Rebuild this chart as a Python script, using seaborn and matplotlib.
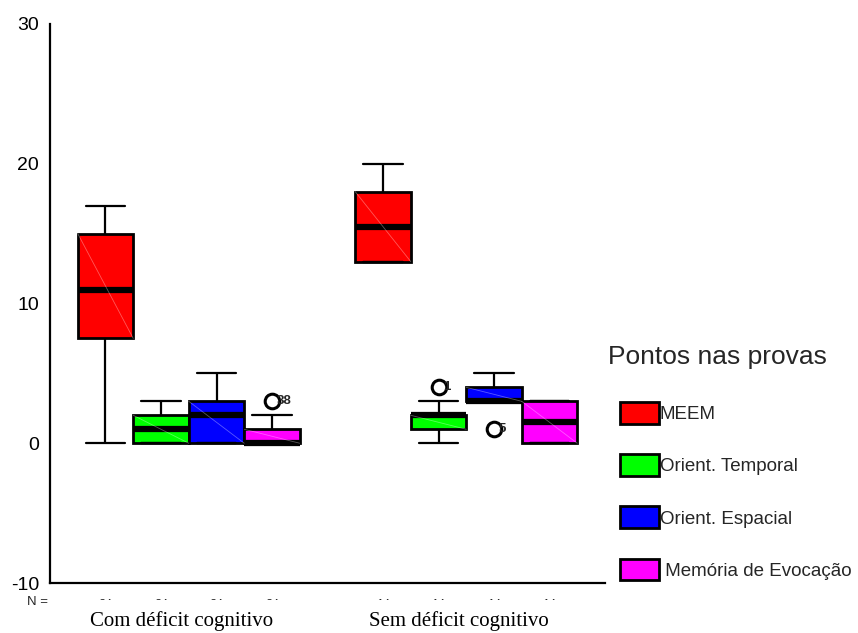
import numpy as np
import pandas as pd
import matplotlib
matplotlib.use("Agg")
import matplotlib.pyplot as plt
from matplotlib.patches import Patch
from matplotlib.transforms import Bbox, blended_transform_factory, ScaledTranslation
import seaborn as sns

# ---------------- data ----------------
groups = ["Com déficit cognitivo", "Sem déficit cognitivo"]
tests = ["MEEM", "Orient. Temporal", "Orient. Espacial", "Memória de Evocação"]
colors = ["#ff0000", "#00ff00", "#0000ff", "#ff00ff"]
n_per_group = [24, 14]

# five-number summaries: lower whisker, Q1, median, Q3, upper whisker
com_meem = [0, 7.5, 11, 15, 17]
com_temporal = [0, 0, 1, 2, 3]
com_espacial = [0, 0, 2, 3, 5]
com_memoria = [0, 0, 0, 1, 2]
sem_meem = [13, 13, 15.5, 18, 20]
sem_temporal = [0, 1, 2, 2, 3]
sem_espacial = [3, 3, 3, 4, 5]
sem_memoria = [0, 0, 1.5, 3, 3]

outlier_group = ["Com déficit cognitivo", "Sem déficit cognitivo", "Sem déficit cognitivo"]
outlier_test = ["Memória de Evocação", "Orient. Temporal", "Orient. Espacial"]
outlier_value = [3, 4, 1]
outlier_label = ["38", "1", "5"]

summaries = {
    groups[0]: [com_meem, com_temporal, com_espacial, com_memoria],
    groups[1]: [sem_meem, sem_temporal, sem_espacial, sem_memoria],
}
rows = []
for g in groups:
    for t, vals in zip(tests, summaries[g]):
        for v in vals:
            rows.append({"group": g, "test": t, "score": v})
df = pd.DataFrame(rows)

# ---------------- figure ----------------
sns.set_style("white")
plt.rcParams["font.family"] = ["Liberation Sans", "DejaVu Sans"]
plt.rcParams["axes.unicode_minus"] = False

fig = plt.figure(figsize=(8.58, 6.33), dpi=100)
ax = fig.add_axes([50 / 858, 1 - 583 / 633, 555 / 858, 559 / 633])

sns.boxplot(
    data=df, x="group", y="score", hue="test",
    order=groups, hue_order=tests, palette=colors, saturation=1,
    whis=(0, 100), width=0.8, gap=0, linecolor="black", linewidth=2,
    medianprops=dict(linewidth=4.5, color="black"),
    whiskerprops=dict(linewidth=1.6),
    capprops=dict(linewidth=1.6),
    legend=False, ax=ax,
)

# widen caps (SPSS style)
for line in ax.lines:
    x = np.asarray(line.get_xdata(), dtype=float)
    y = np.asarray(line.get_ydata(), dtype=float)
    if len(x) == 2 and y[0] == y[1] and line.get_linewidth() < 3:
        c = x.mean()
        line.set_xdata([c - 0.072, c + 0.072])

# faint diagonal artefact inside boxes
for p in list(ax.patches):
    ext = p.get_path().get_extents()
    ax.plot([ext.x0, ext.x1], [ext.y1, ext.y0], color="white", alpha=0.35,
            lw=0.6, zorder=p.get_zorder() + 0.1)

# outliers
offsets = (np.arange(len(tests)) - (len(tests) - 1) / 2) * 0.8 / len(tests)
for g, t, v, lab in zip(outlier_group, outlier_test, outlier_value, outlier_label):
    xpos = groups.index(g) + offsets[tests.index(t)]
    ax.plot([xpos], [v], marker="o", ms=10.5, mfc="white", mec="black", mew=2.2,
            ls="none", zorder=5)
    ax.annotate(lab, (xpos, v), xytext=(3.5, 0), textcoords="offset points",
                ha="left", va="center", fontsize=9.5, fontweight="bold", zorder=6)

ax.set_xlim(-0.5, 1.5)
ax.set_ylim(-10, 30)
ax.set_yticks([-10, 0, 10, 20, 30])
ax.set_xlabel("")
ax.set_ylabel("")
ax.set_xticks([0, 1])
ax.set_xticklabels(groups, fontfamily="Liberation Serif", fontsize=15)
ax.tick_params(axis="x", direction="out", length=3, width=3, pad=17, colors="black")
ax.tick_params(axis="y", direction="out", length=4, width=2, pad=4, labelsize=14,
               colors="black")
shift = ScaledTranslation(-7 / 100, 0, fig.dpi_scale_trans)
for lbl in ax.get_xticklabels():
    lbl.set_transform(lbl.get_transform() + shift)
for s in ["top", "right"]:
    ax.spines[s].set_visible(False)
for s in ["left", "bottom"]:
    ax.spines[s].set_color("black")
    ax.spines[s].set_linewidth(1.6)

# N = row (clipped like the original)
fig.text(48 / 858, 1 - 602 / 633, "N =", ha="right", va="center", fontsize=9.5)
trans = blended_transform_factory(ax.transData, fig.transFigure)
clip = Bbox([[0, 633 - 600], [858, 633]])
for gi, n in enumerate(n_per_group):
    for ti in range(len(tests)):
        t = ax.text(gi + offsets[ti], 1 - 605 / 633, str(n), transform=trans,
                    ha="center", va="center", fontsize=9)
        t.set_clip_box(clip)
        t.set_clip_on(True)

# legend
fig.text(608 / 858, 1 - 357 / 633, "Pontos nas provas", ha="left", va="center",
         fontsize=19)
handles = [Patch(facecolor=c, edgecolor="black", linewidth=2) for c in colors]
labels = tests[:3] + [" " + tests[3]]
fig.legend(handles, labels, loc="upper left",
           bbox_to_anchor=(620 / 858, 1 - 402 / 633), frameon=False,
           borderpad=0, borderaxespad=0, fontsize=13.5,
           handlelength=2.08, handleheight=1.4, handletextpad=0.05,
           labelspacing=1.63)

fig.savefig("out.png", dpi=100)
